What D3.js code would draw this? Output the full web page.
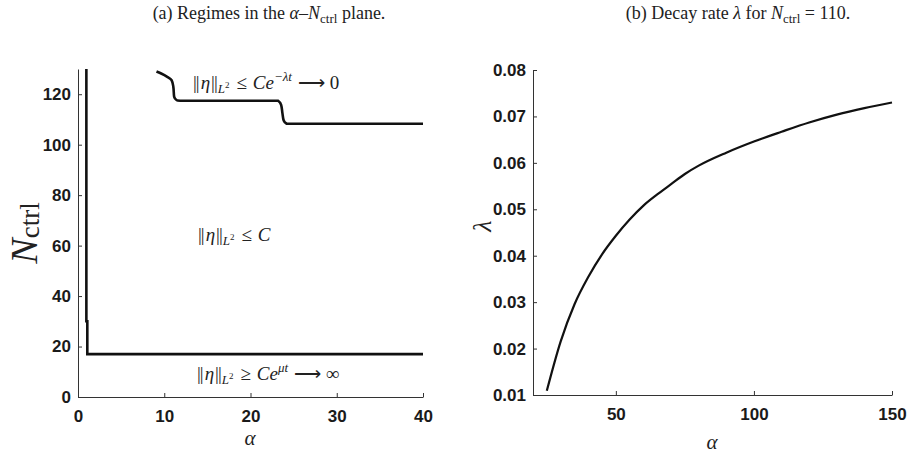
<!DOCTYPE html>
<html>
  <head>
    <meta charset="utf-8">
    <script src="https://d3js.org/d3.v7.min.js"></script>
    <style>
      body { margin: 0; background: #fff; }
      .tick text { font-family: "Liberation Sans", Arial, sans-serif; font-weight: bold; font-size: 17px; fill: #1a1a1a; }
      .tick line, .domain { stroke: #333; }
      .serif { font-family: "Liberation Serif", "Times New Roman", serif; fill: #222; }
    </style>
  </head>
  <body>
    <svg id="fig" width="910" height="456"></svg>
    <script>
      // panel (a): regime boundaries in the alpha - Nctrl plane
      var lowerAlpha = [0.97, 0.97, 1.08, 1.08, 40];
      var lowerN     = [130, 30, 30, 17, 17];
      var upperAlpha = [9.1, 9.7, 10.3, 10.85, 11.05, 11.15, 11.45, 11.85, 23.2, 23.55, 23.7, 23.85, 24.2, 40];
      var upperN     = [129, 128.1, 127, 125.6, 123, 119, 117.6, 117.4, 117.4, 115.8, 112.5, 109.6, 108.3, 108.3];
      var aTicksX = [0, 10, 20, 30, 40];
      var aTicksY = [0, 20, 40, 60, 80, 100, 120];

      // panel (b): decay rate lambda for Nctrl = 110
      var rateAlpha  = [25, 30, 35, 40, 45, 50, 55, 60, 65, 70, 75, 80, 90, 100, 110, 120, 130, 140, 150];
      var rateLambda = [0.0109, 0.0215, 0.0295, 0.0354, 0.0403, 0.0443, 0.0478, 0.0508, 0.0532, 0.0554,
                        0.0576, 0.0594, 0.0622, 0.0646, 0.0667, 0.0687, 0.0704, 0.0718, 0.0730];
      var bTicksX = [50, 100, 150];
      var bTicksY = [0.01, 0.02, 0.03, 0.04, 0.05, 0.06, 0.07, 0.08];

      var svg = d3.select("#fig");

      function drawAxes(g, x, y, xt, yt, yfmt) {
        g.append("g")
            .attr("transform", "translate(0," + y.range()[0] + ")")
            .call(d3.axisBottom(x).tickValues(xt).tickSizeInner(-4).tickSizeOuter(0).tickPadding(13));
        g.append("g")
            .attr("transform", "translate(" + x.range()[0] + ",0)")
            .call(d3.axisLeft(y).tickValues(yt).tickSizeInner(-4).tickSizeOuter(0).tickPadding(7).tickFormat(yfmt));
      }

      // ----- panel (a)
      var xa = d3.scaleLinear().domain([0, 40]).range([78, 423]);
      var ya = d3.scaleLinear().domain([0, 130]).range([397, 69]);
      var ga = svg.append("g");
      drawAxes(ga, xa, ya, aTicksX, aTicksY, d3.format("d"));

      var lineA = d3.line().x(function(d) { return xa(d[0]); }).y(function(d) { return ya(d[1]); });
      ga.append("path")
          .datum(d3.zip(lowerAlpha, lowerN))
          .attr("d", lineA)
          .attr("fill", "none").attr("stroke", "#111").attr("stroke-width", 2.6);
      ga.append("path")
          .datum(d3.zip(upperAlpha, upperN))
          .attr("d", lineA.curve(d3.curveMonotoneY))
          .attr("fill", "none").attr("stroke", "#111").attr("stroke-width", 2.6);

      // regime labels
      function normText(x, y, rel, tail, sup) {
        var t = ga.append("text").attr("class", "serif").attr("x", x).attr("y", y).attr("font-size", 19);
        t.append("tspan").text("|");
        t.append("tspan").attr("dx", -1).text("|");
        t.append("tspan").attr("font-style", "italic").attr("dx", 1).text("\u03b7");
        t.append("tspan").attr("dx", 1).text("|");
        t.append("tspan").attr("dx", -1).text("|");
        t.append("tspan").attr("font-style", "italic").attr("font-size", 13).attr("dy", 4).text("L");
        t.append("tspan").attr("font-size", 9).attr("dy", -5).text("2");
        t.append("tspan").attr("dx", 7).attr("dy", 1).text(rel);
        t.append("tspan").attr("dx", 6).attr("font-style", "italic").text(sup ? "Ce" : "C");
        if (sup) {
          t.append("tspan").attr("font-style", "italic").attr("font-size", 13).attr("dy", -8).text(sup);
          t.append("tspan").attr("dx", 6).attr("dy", 8).text(tail);
        }
        return t;
      }
      normText(193, 89, "\u2264", "\u27f6 0", "\u2212\u03bbt");
      normText(198, 241, "\u2264", "", null);
      normText(197, 380, "\u2265", "\u27f6 \u221e", "\u03bct");

      // axis labels (a)
      ga.append("text").attr("class", "serif")
          .attr("x", 250).attr("y", 445).attr("text-anchor", "middle")
          .attr("font-size", 21).attr("font-style", "italic").text("\u03b1");
      var ylab = ga.append("text").attr("class", "serif")
          .attr("transform", "translate(37,233) rotate(-90)")
          .attr("text-anchor", "middle");
      ylab.append("tspan").attr("font-size", 38).attr("font-style", "italic").text("N");
      ylab.append("tspan").attr("font-size", 27).attr("dy", 2).text("ctrl");

      // title (a)
      var ta = svg.append("text").attr("class", "serif")
          .attr("x", 269).attr("y", 19).attr("text-anchor", "middle").attr("font-size", 18);
      ta.append("tspan").text("(a) Regimes in the ");
      ta.append("tspan").attr("font-style", "italic").text("\u03b1");
      ta.append("tspan").text("\u2013");
      ta.append("tspan").attr("font-style", "italic").text("N");
      ta.append("tspan").attr("font-size", 13).attr("dy", 4).text("ctrl");
      ta.append("tspan").attr("dy", -4).text(" plane.");

      // ----- panel (b)
      var xb = d3.scaleLinear().domain([20, 150]).range([533, 892]);
      var yb = d3.scaleLinear().domain([0.01, 0.08]).range([395, 70]);
      var gb = svg.append("g");
      drawAxes(gb, xb, yb, bTicksX, bTicksY, d3.format(".2f"));

      gb.append("path")
          .datum(d3.zip(rateAlpha, rateLambda))
          .attr("d", d3.line().curve(d3.curveMonotoneX).x(function(d) { return xb(d[0]); }).y(function(d) { return yb(d[1]); }))
          .attr("fill", "none").attr("stroke", "#111").attr("stroke-width", 2.2);

      gb.append("text").attr("class", "serif")
          .attr("x", 712).attr("y", 449).attr("text-anchor", "middle")
          .attr("font-size", 21).attr("font-style", "italic").text("\u03b1");
      gb.append("text").attr("class", "serif")
          .attr("transform", "translate(491,226) rotate(-90)")
          .attr("text-anchor", "middle")
          .attr("font-size", 26).attr("font-style", "italic").text("\u03bb");

      var tb = svg.append("text").attr("class", "serif")
          .attr("x", 738).attr("y", 19).attr("text-anchor", "middle").attr("font-size", 18);
      tb.append("tspan").text("(b) Decay rate ");
      tb.append("tspan").attr("font-style", "italic").text("\u03bb");
      tb.append("tspan").text(" for ");
      tb.append("tspan").attr("font-style", "italic").text("N");
      tb.append("tspan").attr("font-size", 13).attr("dy", 4).text("ctrl");
      tb.append("tspan").attr("dy", -4).text(" = 110.");
    </script>
  </body>
</html>
